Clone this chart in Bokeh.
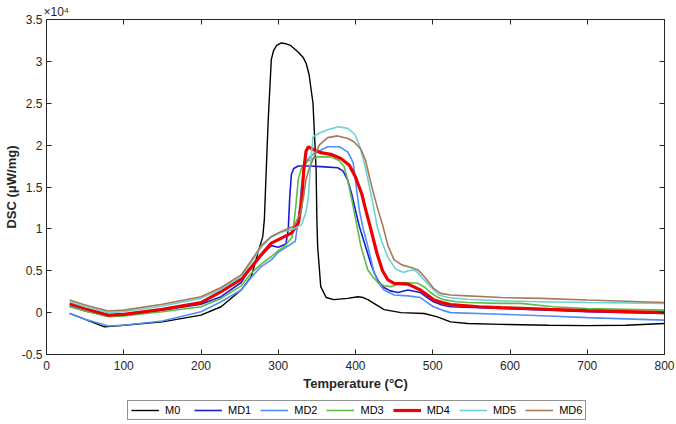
from bokeh.plotting import figure
from bokeh.layouts import column
from bokeh.models import (Legend, LegendItem, LinearAxis, FixedTicker,
                          CustomJSTickFormatter)
from bokeh.embed import file_html
from bokeh.resources import INLINE

# ---------------- data (DSC in units of 1e4 uW/mg) ----------------
series_names = ["M0", "MD1", "MD2", "MD3", "MD4", "MD5", "MD6"]

m0_t = [30, 50, 75, 100, 150, 200, 226, 252, 265, 274, 280, 282, 284, 287, 291, 294, 298, 304, 310,
        316, 326, 332, 336, 340, 342, 345, 346, 348, 349, 350, 351, 355, 362, 372, 390, 403, 410, 416,
        437, 459, 489, 506, 523, 545, 588, 650, 700, 750, 800]
m0_v = [-0.01, -0.08, -0.17, -0.15, -0.11, -0.03, 0.07, 0.27, 0.43, 0.72, 0.91, 1.11, 1.59, 2.30, 3.02,
        3.13, 3.19, 3.22, 3.21, 3.19, 3.11, 3.05, 2.98, 2.84, 2.70, 2.50, 2.30, 1.91, 1.71, 1.11, 0.79,
        0.31, 0.18, 0.155, 0.17, 0.19, 0.18, 0.155, 0.036, 0.0, -0.01, -0.05, -0.11, -0.13, -0.14,
        -0.15, -0.155, -0.15, -0.13]

md1_t = [30, 50, 80, 100, 150, 200, 226, 252, 265, 278, 291, 300, 310, 313, 315, 317, 320, 326, 340,
         360, 377, 384, 390, 395, 400, 405, 410, 415, 420, 425, 430, 437, 445, 455, 468, 484, 493, 501,
         512, 523, 560, 588, 650, 700, 800]
md1_v = [0.08, 0.02, -0.04, -0.03, 0.03, 0.10, 0.19, 0.36, 0.55, 0.69, 0.80, 0.78, 0.82, 1.0, 1.4,
         1.65, 1.72, 1.75, 1.75, 1.74, 1.73, 1.69, 1.58, 1.42, 1.22, 1.03, 0.88, 0.73, 0.58, 0.46, 0.37,
         0.30, 0.26, 0.24, 0.27, 0.24, 0.18, 0.13, 0.09, 0.07, 0.06, 0.05, 0.03, 0.01, -0.01]

md2_t = [30, 50, 80, 100, 150, 200, 226, 252, 265, 278, 291, 300, 310, 322, 326, 330, 334, 339, 346,
         351, 364, 379, 390, 397, 401, 405, 410, 416, 424, 430, 437, 450, 468, 484, 493, 501, 512, 523,
         588, 650, 700, 800]
md2_v = [-0.01, -0.08, -0.16, -0.15, -0.10, 0.01, 0.13, 0.27, 0.42, 0.55, 0.63, 0.72, 0.78, 0.85, 1.1,
         1.5, 1.75, 1.84, 1.90, 1.92, 1.98, 1.98, 1.92, 1.79, 1.50, 1.22, 1.0, 0.79, 0.48, 0.35, 0.27,
         0.21, 0.20, 0.18, 0.12, 0.07, 0.03, 0.0, -0.02, -0.04, -0.06, -0.09]

md3_t = [30, 50, 80, 100, 150, 200, 226, 252, 265, 278, 291, 300, 308, 318, 322, 326, 330, 336, 345,
         351, 368, 378, 385, 390, 398, 407, 416, 423, 429, 437, 446, 455, 462, 481, 490, 497, 505, 514,
         530, 545, 588, 614, 656, 700, 800]
md3_v = [0.07, 0.02, -0.05, -0.04, 0.01, 0.07, 0.17, 0.32, 0.47, 0.58, 0.67, 0.74, 0.79, 0.90, 1.2,
         1.6, 1.72, 1.80, 1.84, 1.86, 1.86, 1.82, 1.75, 1.58, 1.22, 0.79, 0.51, 0.42, 0.36, 0.32, 0.31,
         0.34, 0.36, 0.35, 0.30, 0.24, 0.19, 0.155, 0.13, 0.12, 0.11, 0.11, 0.07, 0.05, 0.03]

md4_t = [30, 50, 80, 100, 150, 200, 226, 252, 265, 278, 291, 304, 317, 326, 330, 333, 336, 339, 345,
         355, 368, 381, 392, 400, 408, 414, 420, 428, 435, 442, 450, 468, 484, 493, 501, 512, 523, 560,
         588, 650, 700, 800]
md4_v = [0.11, 0.05, -0.03, -0.02, 0.04, 0.12, 0.25, 0.40, 0.54, 0.69, 0.83, 0.89, 0.95, 1.07, 1.3,
         1.7, 1.93, 1.98, 1.95, 1.91, 1.89, 1.84, 1.76, 1.62, 1.42, 1.2, 0.99, 0.70, 0.50, 0.39, 0.35,
         0.34, 0.27, 0.21, 0.155, 0.12, 0.095, 0.07, 0.06, 0.04, 0.025, 0.0]

md5_t = [30, 50, 80, 100, 150, 200, 226, 252, 265, 278, 291, 304, 320, 330, 336, 339, 342, 345, 355,
         366, 378, 390, 399, 405, 411, 417, 423, 428, 434, 442, 452, 462, 472, 478, 488, 498, 508, 520,
         545, 588, 640, 700, 800]
md5_v = [0.13, 0.07, 0.0, 0.01, 0.08, 0.17, 0.28, 0.43, 0.60, 0.78, 0.90, 0.96, 1.0, 1.05, 1.2, 1.38,
         1.79, 2.10, 2.15, 2.19, 2.22, 2.20, 2.13, 2.0, 1.8, 1.55, 1.28, 1.03, 0.85, 0.66, 0.52, 0.48,
         0.51, 0.50, 0.40, 0.30, 0.21, 0.18, 0.16, 0.14, 0.13, 0.12, 0.11]

md6_t = [30, 50, 80, 100, 150, 200, 226, 252, 265, 278, 291, 304, 320, 329, 333, 336, 340, 346, 353,
         364, 377, 390, 398, 407, 413, 418, 424, 430, 435, 442, 450, 460, 472, 481, 490, 501, 510, 523,
         545, 588, 640, 700, 800]
md6_v = [0.15, 0.09, 0.02, 0.03, 0.10, 0.19, 0.30, 0.45, 0.62, 0.80, 0.91, 0.97, 1.03, 1.19, 1.40,
         1.59, 1.72, 1.85, 2.0, 2.09, 2.11, 2.08, 2.04, 1.95, 1.82, 1.62, 1.40, 1.2, 1.05, 0.80, 0.63,
         0.57, 0.54, 0.51, 0.42, 0.29, 0.23, 0.21, 0.20, 0.18, 0.17, 0.15, 0.12]

x_ticks = [0, 100, 200, 300, 400, 500, 600, 700, 800]
y_ticks = [-0.5, 0, 0.5, 1, 1.5, 2, 2.5, 3, 3.5]
y_tick_labels = ["-0.5", "0", "0.5", "1", "1.5", "2", "2.5", "3", "3.5"]
multiplier_text = "×10⁴"

colors = ["#000000", "#1c1cd4", "#4f8ff7", "#5dbb46", "#ee0000", "#6cd3d5", "#a57b57"]
widths = [1.4, 1.6, 1.6, 1.6, 3.2, 1.6, 1.6]

data = [(m0_t, m0_v), (md1_t, md1_v), (md2_t, md2_v), (md3_t, md3_v),
        (md4_t, md4_v), (md5_t, md5_v), (md6_t, md6_v)]

# ---------------- main figure ----------------
FONT = "Liberation Sans"
AX = "#262626"

p = figure(width=676, height=394, x_range=(0, 800), y_range=(-0.5, 3.5),
           output_backend="svg", toolbar_location=None,
           min_border_left=45, min_border_right=12, min_border_top=19, min_border_bottom=40)
p.xgrid.visible = False
p.ygrid.visible = False
p.outline_line_color = None
p.background_fill_color = "white"
p.border_fill_color = "white"

for (t, v), c, w in zip(data, colors, widths):
    p.line(t, v, line_color=c, line_width=w)


def style_axis(ax):
    ax.axis_line_color = AX
    ax.axis_line_width = 1
    ax.major_tick_line_color = AX
    ax.major_tick_in = 5
    ax.major_tick_out = 0
    ax.minor_tick_line_color = None
    ax.major_label_text_color = AX
    ax.major_label_text_font = FONT
    ax.major_label_text_font_size = "12px"


xa = p.xaxis[0]
xa.ticker = FixedTicker(ticks=x_ticks)
style_axis(xa)
xa.major_label_standoff = 6
xa.axis_label = "Temperature (°C)"
xa.axis_label_text_font = FONT
xa.axis_label_text_font_style = "bold"
xa.axis_label_text_font_size = "13px"
xa.axis_label_text_color = AX
xa.axis_label_standoff = 3

ya = p.yaxis[0]
ya.ticker = FixedTicker(ticks=y_ticks)
ya.major_label_overrides = {t: s for t, s in zip(y_ticks, y_tick_labels)}
style_axis(ya)
ya.major_label_standoff = 4
ya.axis_label = "DSC (μW/mg)"
ya.axis_label_text_font = FONT
ya.axis_label_text_font_style = "bold"
ya.axis_label_text_font_size = "13px"
ya.axis_label_text_color = AX
ya.axis_label_standoff = 0

blank = CustomJSTickFormatter(code="return ''")
top = LinearAxis(ticker=FixedTicker(ticks=x_ticks), formatter=blank)
style_axis(top)
top.major_label_standoff = 0
top.major_label_text_font_size = "0px"
p.add_layout(top, "above")
right = LinearAxis(ticker=FixedTicker(ticks=y_ticks), formatter=blank)
style_axis(right)
right.major_label_standoff = 0
right.major_label_text_font_size = "0px"
p.add_layout(right, "right")

# x10^4 multiplier as the title, left-aligned just above the frame
p.title.text = multiplier_text
p.title.align = "left"
p.title.offset = -3
p.title.standoff = 1
p.title.text_font = FONT
p.title.text_font_size = "12px"
p.title.text_font_style = "normal"
p.title.text_color = AX

# ---------------- legend strip (series drawn off-range, only the legend shows) ----------------
lg = figure(width=676, height=30, output_backend="svg", toolbar_location=None,
            min_border=0, min_border_left=0, min_border_right=0, min_border_top=0,
            min_border_bottom=0, x_axis_type=None, y_axis_type=None,
            x_range=(-20, -10), y_range=(-20, -10))
lg.xgrid.visible = False
lg.ygrid.visible = False
lg.outline_line_color = None
lg.border_fill_color = "white"
lg_renderers = [lg.line(t, v, line_color=c, line_width=w) for (t, v), c, w in zip(data, colors, widths)]

legend = Legend(items=[LegendItem(label=n, renderers=[r]) for n, r in zip(series_names, lg_renderers)],
                orientation="horizontal", location=(81, 4))
legend.border_line_color = AX
legend.border_line_width = 1
legend.background_fill_color = "white"
legend.background_fill_alpha = 1
legend.label_text_font = FONT
legend.label_text_font_size = "11px"
legend.label_text_color = "#000000"
legend.glyph_width = 28
legend.glyph_height = 12
legend.label_height = 12
legend.label_standoff = 6
legend.spacing = 9
legend.padding = 3
legend.margin = 0
lg.add_layout(legend, "center")

open("out.html", "w").write(file_html(column(p, lg, spacing=0), INLINE))
